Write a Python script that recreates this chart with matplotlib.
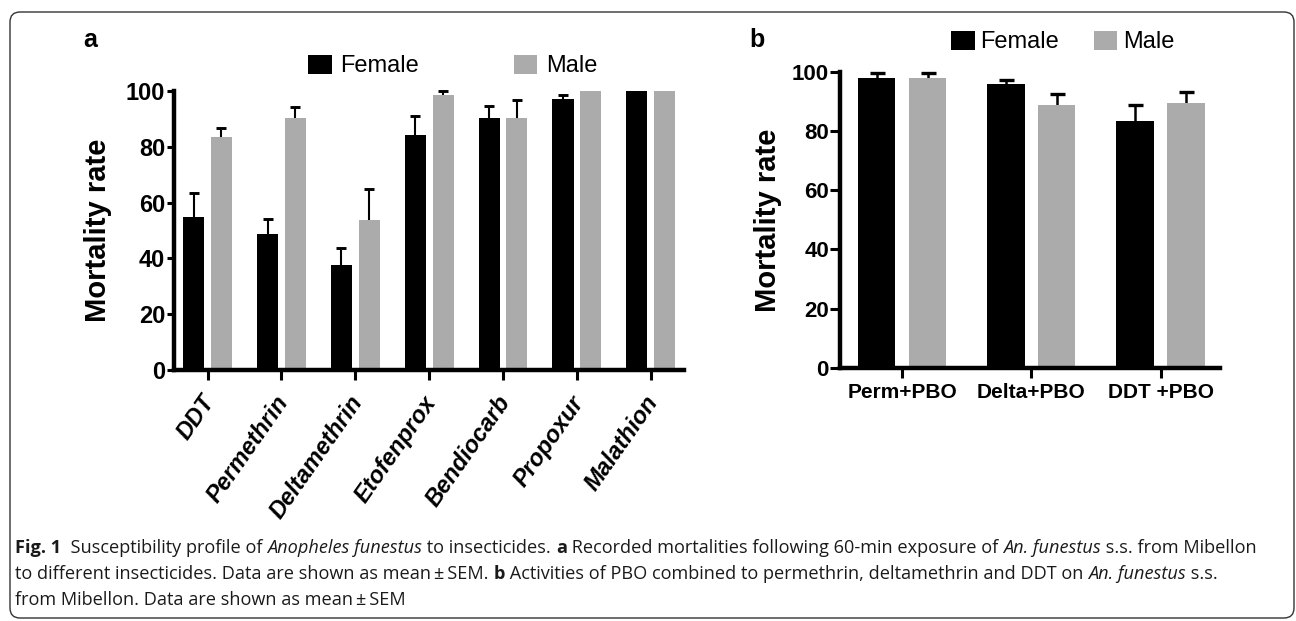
import numpy as np
import matplotlib
matplotlib.use("Agg")
import matplotlib.pyplot as plt
from matplotlib.patches import Patch, FancyBboxPatch
from matplotlib.transforms import IdentityTransform, ScaledTranslation

# panel a: mortality after 60-min exposure
insecticides = ['DDT', 'Permethrin', 'Deltamethrin', 'Etofenprox', 'Bendiocarb', 'Propoxur', 'Malathion']
female_a = [55.0, 48.6, 37.8, 84.2, 90.3, 97.0, 100.0]
female_a_sem = [8.5, 5.7, 6.1, 6.7, 4.4, 1.7, 0.0]
male_a = [83.5, 90.5, 53.7, 98.6, 90.3, 100.0, 100.0]
male_a_sem = [3.2, 3.8, 11.3, 1.3, 6.5, 0.0, 0.0]

# panel b: PBO synergist
combos = ['Perm+PBO', 'Delta+PBO', 'DDT +PBO']
female_b = [98.0, 95.8, 83.5]
female_b_sem = [1.7, 1.3, 5.3]
male_b = [98.0, 88.7, 89.6]
male_b_sem = [1.7, 3.9, 3.7]

yticks = [0, 20, 40, 60, 80, 100]

FEMALE = 'black'
MALE = '#ababab'
FONT = 'Liberation Sans'

plt.rcParams['font.family'] = [FONT, 'DejaVu Sans']

W, H = 1296, 621
fig = plt.figure(figsize=(W / 100, H / 100), dpi=100)


def px_axes(left, top, right, bottom):
    return fig.add_axes([left / W, 1 - bottom / H, (right - left) / W, (bottom - top) / H])


def draw_bars(ax, f, fs, m, ms, width, off, cap, elw):
    x = np.arange(len(f))
    ax.bar(x - off, f, width, color=FEMALE, zorder=2)
    ax.bar(x + off, m, width, color=MALE, zorder=2)
    # symmetric bars drawn behind the columns, so only the upper half shows
    for xs, vals, errs in [(x - off, f, fs), (x + off, m, ms)]:
        keep = np.array(errs) > 0
        ax.errorbar(xs[keep], np.array(vals)[keep], yerr=np.array(errs)[keep],
                    fmt='none', ecolor='black', elinewidth=elw, capsize=cap,
                    capthick=elw + 0.6, zorder=1, clip_on=False)
    return x


def style_axes(ax, tick_size, tick_len):
    for s in ['top', 'right']:
        ax.spines[s].set_visible(False)
    for s in ['left', 'bottom']:
        ax.spines[s].set_linewidth(3.2)
        ax.spines[s].set_zorder(4)
    ax.set_ylim(0, 100)
    ax.set_yticks(yticks)
    ax.tick_params(axis='both', width=2.2, direction='out')
    ax.tick_params(axis='y', length=tick_len, pad=1, labelsize=tick_size)
    for lab in ax.get_yticklabels():
        lab.set_fontweight('bold')
    ax.set_ylabel('Mortality rate', fontsize=21, fontweight='bold')


# ---- panel a
ax1 = px_axes(173.6, 91, 684, 370)
x1 = draw_bars(ax1, female_a, female_a_sem, male_a, male_a_sem, 0.285, 0.188, 3.7, 1.5)
ax1.set_xlim(-0.46, 6.45)
style_axes(ax1, 17, 5)
ax1.set_xticks(x1)
ax1.set_xticklabels(insecticides, rotation=55, ha='right', va='top', rotation_mode='anchor',
                    fontsize=17, fontweight='bold', fontstyle='italic')
ax1.tick_params(axis='x', length=7, pad=7)
shift = ScaledTranslation(-0.07, -0.02, fig.dpi_scale_trans)
for lab in ax1.get_xticklabels():
    lab.set_transform(lab.get_transform() + shift)
ax1.yaxis.set_label_coords(-0.121, 0.5)

# ---- panel b
ax2 = px_axes(840, 71.7, 1220, 368)
x2 = draw_bars(ax2, female_b, female_b_sem, male_b, male_b_sem, 0.29, 0.197, 5.4, 1.8)
ax2.set_xlim(-0.48, 2.46)
style_axes(ax2, 16, 7)
ax2.set_xticks(x2)
ax2.set_xticklabels(combos, fontsize=15, fontweight='bold')
ax2.tick_params(axis='x', length=7, pad=4)
ax2.yaxis.set_label_coords(-0.153, 0.5)

# legends
handles = [Patch(facecolor=FEMALE), Patch(facecolor=MALE)]
for x0, y0, colsp, tpad in [(308, 66, 4.0, 0.38), (951, 42, 1.45, 0.25)]:
    fig.legend(handles, ['Female', 'Male'], ncol=2, frameon=False, fontsize=17,
               loc='center left', bbox_to_anchor=(x0 / W, 1 - y0 / H),
               handlelength=1.0, handleheight=0.9, handletextpad=tpad,
               columnspacing=colsp, borderpad=0, borderaxespad=0)

fig.text(90 / W, 1 - 40 / H, 'a', fontsize=18, fontweight='bold', ha='center', va='center')
fig.text(757 / W, 1 - 40 / H, 'b', fontsize=18, fontweight='bold', ha='center', va='center')

# caption, built from runs of plain / bold / italic text
cap_font = ['Open Sans', 'DejaVu Sans']
cap_size = 13.1
caption = [
    [('Fig. 1', 'b'), ('  Susceptibility profile of ', 'n'), ('Anopheles funestus', 'i'),
     (' to insecticides. ', 'n'), ('a', 'b'),
     (' Recorded mortalities following 60-min exposure of ', 'n'), ('An. funestus', 'i'),
     (' s.s. from Mibellon', 'n')],
    [('to different insecticides. Data are shown as mean\u2009\u00b1\u2009SEM. ', 'n'), ('b', 'b'),
     (' Activities of PBO combined to permethrin, deltamethrin and DDT on ', 'n'),
     ('An. funestus', 'i'), (' s.s.', 'n')],
    [('from Mibellon. Data are shown as mean\u2009\u00b1\u2009SEM', 'n')],
]
line_y = [548, 574, 600]
for runs, ly in zip(caption, line_y):
    prev = None
    for txt, kind in runs:
        kw = dict(fontsize=cap_size, family=cap_font, color='#1a1a1a',
                  fontweight='bold' if kind == 'b' else 'normal',
                  fontstyle='italic' if kind == 'i' else 'normal')
        if prev is None:
            prev = fig.text(15 / W, 1 - ly / H, txt, ha='left', va='center', **kw)
        else:
            prev = ax1.annotate(txt, xy=(1, 0), xycoords=prev, ha='left', va='bottom',
                                annotation_clip=False, **kw)

# rounded frame around the figure
frame = FancyBboxPatch((10, H - 618), 1284, 606, boxstyle='round,pad=0,rounding_size=10',
                       transform=IdentityTransform(), facecolor='none',
                       edgecolor='#333333', linewidth=1.0)
fig.add_artist(frame)

fig.savefig('out.png', dpi=100)
